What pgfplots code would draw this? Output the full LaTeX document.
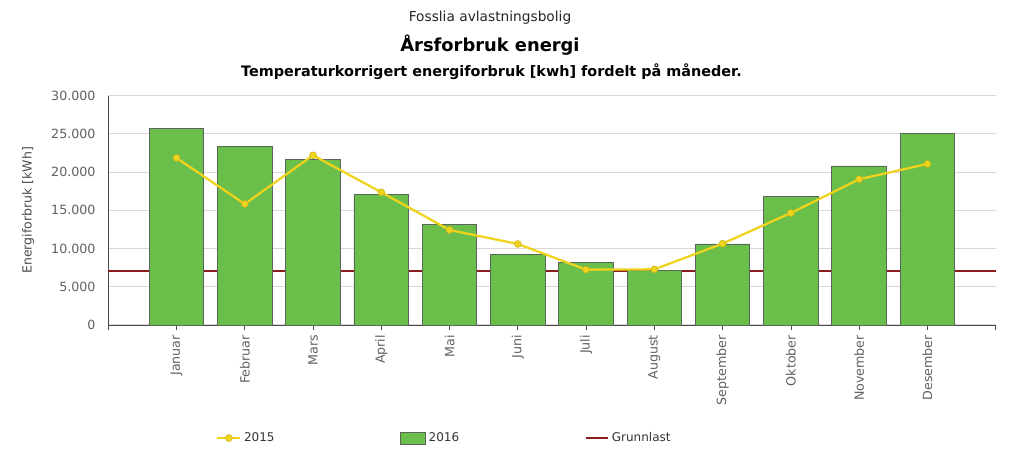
\documentclass[border=0pt]{standalone}
\usepackage{fontspec}
\setmainfont{DejaVu Sans}
\usepackage{pgfplots}
\pgfplotsset{compat=1.18}
\definecolor{bargreen}{HTML}{6ABF4B}
\definecolor{baredge}{HTML}{5A665A}
\definecolor{lineyellow}{HTML}{EFD31C}
\definecolor{grunn}{HTML}{8B1C1C}
\definecolor{tickgray}{HTML}{606060}
\definecolor{gridgray}{HTML}{D8D8D8}
\definecolor{axisgray}{HTML}{4A4A4A}
\pgfplotsset{boxlegend/.style={legend image code/.code={\draw[##1] (0pt,-4.5pt) rectangle (19pt,4.5pt);}}}
\pgfplotstableread{
x y
0 25700
1 23350
2 21640
3 17100
4 13130
5 9200
6 8200
7 7150
8 10600
9 16840
10 20800
11 25030
}\tabA
\pgfplotstableread{
x y
0 21850
1 15830
2 22200
3 17360
4 12430
5 10600
6 7240
7 7280
8 10640
9 14650
10 19060
11 21070
}\tabB
\begin{document}
\begin{tikzpicture}[x=1pt,y=1pt]
\path[use as bounding box] (0,0) rectangle (768,347.25);
\node[font=\fontsize{10.3}{12}\selectfont, text=black!85] at (367.5,333.75) {Fosslia avlastningsbolig};
\node[font=\fontsize{13.4}{15}\selectfont\bfseries] at (367.5,313.5) {Årsforbruk energi};
\node[font=\fontsize{10.8}{12}\selectfont\bfseries] at (368.6,293.25) {Temperaturkorrigert energiforbruk [kwh] fordelt på måneder.};
\begin{axis}[
  at={(81.2pt,103.5pt)}, anchor=south west,
  scale only axis, width=665.5pt, height=172pt,
  xmin=-1, xmax=12, ymin=0, ymax=30000,
  axis lines=left, axis line style={-, draw=axisgray, line width=0.6pt},
  xtick={-1,0,...,12},
  xticklabels={,Januar,Februar,Mars,April,Mai,Juni,Juli,August,September,Oktober,November,Desember,},
  xtick align=outside, major tick length=4pt,
  x tick style={draw=axisgray, line width=0.5pt},
  ytick={0,5000,...,30000}, ytick style={draw=none},
  ymajorgrids, grid style={gridgray, line width=0.75pt},
  y tick label style={font=\fontsize{9.5}{11}\selectfont, text=tickgray, xshift=-4pt},
  x tick label style={font=\fontsize{9.5}{11}\selectfont, text=tickgray, rotate=90, anchor=east},
  /pgf/number format/assume math mode=true,
  /pgf/number format/1000 sep={.},
  scaled y ticks=false,
  ylabel={Energiforbruk [kWh]},
  every axis y label/.style={at={(rel axis cs:0,0.5)}, xshift=-60pt, rotate=90, anchor=center,
    font=\fontsize{9.4}{11}\selectfont, text=black!70},
  legend columns=3,
  reverse legend,
  legend style={at={(0.1170,-0.4928)}, anchor=west, draw=none, fill=none,
    font=\fontsize{9}{11}\selectfont, text=black!80,
    /tikz/every even column/.append style={column sep=92pt}},
  clip=false,
]
\addplot[grunn, line width=1.4pt] coordinates {(-1,7100) (12,7100)};
\addlegendentry{Grunnlast}
\addplot[ybar, bar width=0.8, fill=bargreen, draw=baredge, line width=0.6pt, boxlegend] table[x=x,y=y] {\tabA};
\addlegendentry{2016}
\addplot[lineyellow, line width=1.7pt, mark=*, mark size=2.6pt, mark options={fill=lineyellow, draw=lineyellow!85!black, line width=0.4pt}] table[x=x,y=y] {\tabB};
\addlegendentry{2015}
\end{axis}
\end{tikzpicture}
\end{document}
